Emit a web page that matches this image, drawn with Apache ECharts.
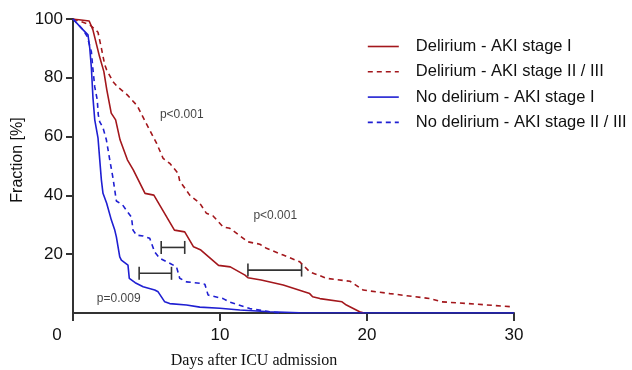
<!DOCTYPE html>
<html><head><meta charset="utf-8">
<script src="https://cdn.jsdelivr.net/npm/echarts@6/dist/echarts.min.js"></script>
<style>html,body{margin:0;padding:0;background:#fff}#c{width:632px;height:370px}</style>
</head><body><div id="c"></div>
<script>
// ---- data ----
const seriesNames = ['Delirium - AKI stage I','Delirium - AKI stage II / III','No delirium - AKI stage I','No delirium - AKI stage II / III'];
const delStage1 = [[0,100],[1.1,99.3],[1.35,96.4],[1.8,87.3],[2.1,82.1],[2.3,75.9],[2.6,68],[2.9,65.7],[3.2,58.9],[3.7,52.1],[4.1,48.7],[4.9,40.7],[5.5,40.1],[6.1,35],[6.9,28.2],[7.6,27.6],[8.2,22.5],[8.7,21.4],[9.9,16.2],[10.7,15.7],[11.7,12.9],[11.9,12],[12.8,11.2],[14.3,9.5],[16.1,6.6],[16.3,5.5],[16.8,4.9],[18.3,3.8],[18.6,2.7],[19.5,0.4],[19.8,0]];
const delStage23 = [[0,100],[1.14,98.1],[1.7,95.5],[1.93,90.1],[2.16,84.4],[2.29,82.7],[2.72,78.7],[3.04,76.9],[3.69,74.2],[4.37,70.5],[5.0,64.3],[5.68,57.8],[6.13,52.6],[6.58,50.9],[7.15,47.5],[7.26,44.9],[7.94,40.1],[8.63,37.3],[9.08,33.9],[9.53,33],[10.21,29.3],[10.67,28.8],[11.91,24.2],[12.71,23.4],[13.16,22],[14.3,19.7],[15.43,17.4],[16.11,14],[17.25,11.8],[18.84,10.8],[19.74,7.8],[21.56,6.6],[24.28,4.9],[25.08,3.8],[26.32,3.4],[29.95,2.1]];
const noDelStage1 = [[0,100],[0.57,96.9],[1.02,94.6],[1.14,90.1],[1.25,83.4],[1.36,73.1],[1.48,65.7],[1.7,59.6],[1.82,52.1],[1.93,45.3],[2.04,40.7],[2.29,37.3],[2.61,31.6],[2.84,28.2],[2.95,25.9],[3.18,19.1],[3.29,18],[3.74,16.3],[3.83,11.8],[4.23,10.3],[4.77,8.9],[5.56,7.8],[5.79,7.2],[6.24,3.8],[6.58,3.2],[7.72,2.7],[8.63,2],[9.99,1.6],[11.35,1],[13.39,0.4],[15.4,0.1],[30,0]];
const noDelStage23 = [[0,100],[0.68,96.4],[0.97,94],[1.25,88.9],[1.36,82.7],[1.48,76.9],[1.65,72.5],[1.72,67.4],[1.82,65],[2.04,63],[2.27,58.9],[2.5,52.1],[2.72,45.9],[2.95,38.1],[3.38,36.7],[3.74,34.2],[3.98,32.6],[4.08,28.2],[4.32,26.5],[4.77,26.2],[5.22,25.4],[5.56,20.7],[5.9,18.6],[6.58,16.9],[7.04,15.7],[7.26,11.8],[7.72,10.6],[8.63,10.1],[8.97,9.8],[9.19,6.1],[10.21,4.9],[10.67,3.7],[12.03,1.5],[13.39,0.4],[14.07,0]];
// error bars: [y, xLow, xHigh]
const errorBars = [[22.3,6.0,7.6],[13.5,4.5,6.7],[14.6,11.9,15.55]];
// annotations: [x, y, text]
const annotations = [[7.4,67.6,'p<0.001'],[13.76,33,'p<0.001'],[3.11,4.9,'p=0.009']];
const xTicks = [0,10,20,30];
const yTicks = [0,20,40,60,80,100];

const RED = '#a3171c', BLUE = '#1f1fd2';
const FONT = 'Liberation Sans, Arial, sans-serif';
const chart = echarts.init(document.getElementById('c'));
function lineSeries(name, data, color, dashed){
  return {type:'line', name, data, symbol:'none', smooth:false, animation:false,
    lineStyle:{color, width:1.6, type: dashed ? [5,4] : 'solid'}, itemStyle:{color}};
}
chart.setOption({
  animation:false,
  grid:{left:73, right:118, top:19, bottom:57},
  legend:{show:true, orient:'vertical', left:362, top:33, itemWidth:31, itemHeight:14, itemGap:8.3,
    itemStyle:{opacity:0},
    lineStyle:{width:1.6},
    textStyle:{fontFamily:FONT, fontSize:16.5, color:'#111', padding:[0,0,0,12]},
    data: seriesNames},
  xAxis:{type:'value', min:0, max:30, interval:10,
    axisLine:{show:true, onZero:false, lineStyle:{color:'#333', width:2}},
    axisTick:{show:true, length:8, lineStyle:{color:'#333', width:2}},
    splitLine:{show:false},
    axisLabel:{fontFamily:FONT, fontSize:17, color:'#111', margin:14,
      formatter:v => v===0 ? '{z|0}' : String(v),
      rich:{z:{fontFamily:FONT, fontSize:17, color:'#111', padding:[0,32,0,0]}}}},
  yAxis:{type:'value', min:0, max:100, interval:20,
    axisLine:{show:true, lineStyle:{color:'#333', width:2}},
    axisTick:{show:true, length:7, lineStyle:{color:'#333', width:2}},
    splitLine:{show:false},
    axisLabel:{fontFamily:FONT, fontSize:17, color:'#111', margin:10, showMinLabel:false,
      formatter:v => v===0 ? '' : String(v)}},
  graphic:[
    {type:'text', x:18, y:160, rotation:Math.PI/2,
      style:{text:'Fraction [%]', fontFamily:FONT, fontSize:16, fill:'#111', textAlign:'center', textVerticalAlign:'middle'}},
    {type:'text', x:254, y:361,
      style:{text:'Days after ICU admission', fontFamily:'Liberation Serif, Times New Roman, serif', fontSize:16, fill:'#111', textAlign:'center', textVerticalAlign:'middle'}}
  ],
  series:[
    lineSeries(seriesNames[0], delStage1, RED, false),
    lineSeries(seriesNames[1], delStage23, RED, true),
    lineSeries(seriesNames[2], noDelStage1, BLUE, false),
    lineSeries(seriesNames[3], noDelStage23, BLUE, true),
    {type:'custom', name:'errorbars', data:errorBars, silent:true,
      renderItem:(params, api) => {
        const y = api.value(0);
        const p1 = api.coord([api.value(1), y]);
        const p2 = api.coord([api.value(2), y]);
        const h = 6.5;
        const st = {stroke:'#333', lineWidth:1.6};
        return {type:'group', children:[
          {type:'line', shape:{x1:p1[0], y1:p1[1], x2:p2[0], y2:p2[1]}, style:st},
          {type:'line', shape:{x1:p1[0], y1:p1[1]-h, x2:p1[0], y2:p1[1]+h}, style:st},
          {type:'line', shape:{x1:p2[0], y1:p2[1]-h, x2:p2[0], y2:p2[1]+h}, style:st}
        ]};
      }},
    {type:'scatter', name:'annotations', data:annotations.map(a => ({value:[a[0],a[1]], name:a[2]})),
      symbolSize:0, silent:true,
      label:{show:true, position:'inside', formatter:p => p.name, fontFamily:FONT, fontSize:12, color:'#111'}}
  ]
});
</script>
</body></html>
